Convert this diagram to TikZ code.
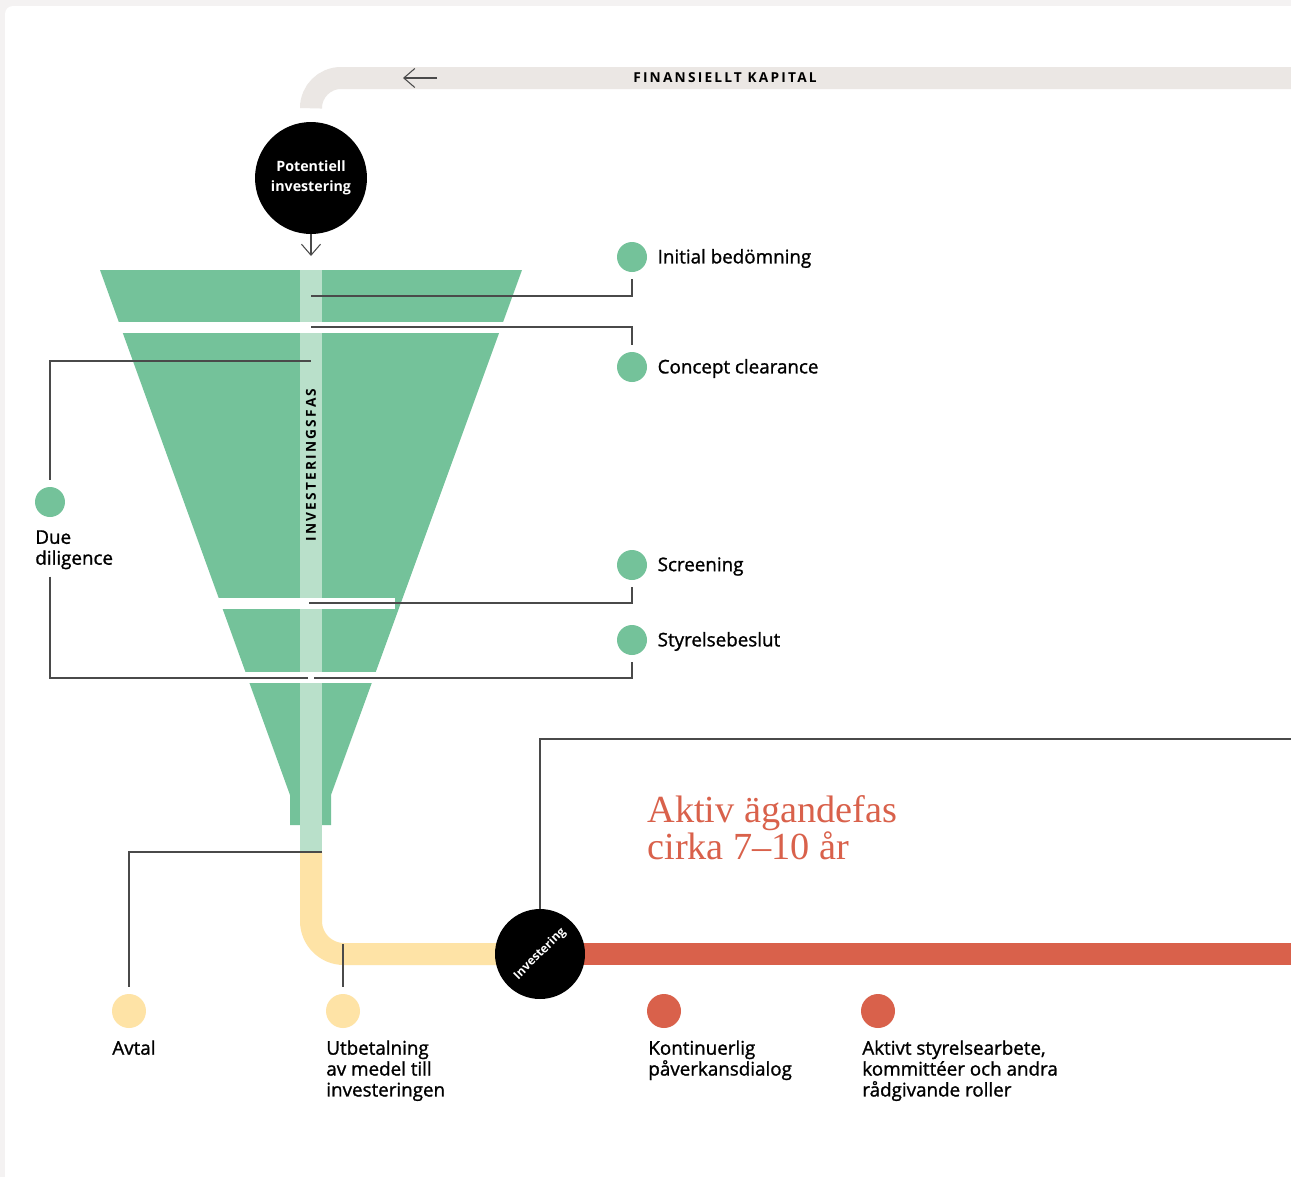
\documentclass[tikz,border=0pt]{standalone}
\usepackage{fontspec}
\setmainfont{Open Sans}
\newfontfamily\labelfont{Open Sans}[FakeBold=1.2]
\newfontfamily\titlefont{Liberation Serif}
\newfontfamily\capsfont{Open Sans}[LetterSpace=16]
\usetikzlibrary{positioning,arrows.meta}
\definecolor{bggrey}{HTML}{F4F2F2}
\definecolor{bandgrey}{HTML}{EBE7E4}
\definecolor{funnel}{HTML}{74C29A}
\definecolor{strip}{HTML}{B9E0CA}
\definecolor{owner}{HTML}{D9614B}
\definecolor{payout}{HTML}{FEE3A6}
\definecolor{leadgrey}{HTML}{4A4A4A}

\begin{document}
\begin{tikzpicture}[x=0.02cm, y=-0.02cm, node distance=0.2cm,
  dot/.style={circle, inner sep=0, minimum size=0.6cm, fill=funnel},
  big dot/.style={circle, inner sep=0, minimum size=0.68cm},
  black node/.style={circle, fill=black, inner sep=0, text=white},
  lbl/.style={inner sep=0, align=left, font=\labelfont\fontsize{10.7}{11.9}\selectfont},
  caps/.style={inner sep=0, font=\capsfont\bfseries\fontsize{7.8}{9}\selectfont},
  lead/.style={draw=leadgrey, line width=0.6pt, shorten <=0.14cm},
  band/.style={line width=0.44cm},
  pointer/.style={draw=leadgrey, line width=0.6pt, -{Straight Barb[length=0.22cm, width=0.38cm]}}]
\useasboundingbox (0,0) rectangle (1291,1177);
\fill[bggrey] (0,0) rectangle (1291,1177);
\fill[white, rounded corners=0.16cm] (5,6) rectangle (1320,1200);

\draw[band, bandgrey, rounded corners=0.6cm] (311,103) -- (311,78) -- (1291,78);
\coordinate (k1) at (437,78);
\coordinate (k2) at (403,78);
\draw[pointer] (k1) -- (k2);
\node[caps] (kapital) at (725,78) {FINANSIELLT KAPITAL};

\node[black node, minimum size=2.24cm, align=center, font=\bfseries\fontsize{8.1}{11.3}\selectfont] (pot) at (311,178) {Potentiell\\investering};
\coordinate (intake) at (311,256);
\draw[pointer] (pot) -- (intake);

\fill[funnel] (100,270) -- (522,270) -- (331,795) -- (331,825) -- (290,825) -- (290,795) -- cycle;
\fill[strip] (300,270) rectangle (322,852);
\fill[white] (90,322) rectangle (530,333);
\fill[white] (210,598) rectangle (395,609);
\fill[white] (200,672) rectangle (420,683);
\node[caps, rotate=90] (fas) at (311,465) {INVESTERINGSFAS};

\draw[band, payout, rounded corners=0.66cm] (311,852) -- (311,954) -- (540,954);
\draw[band, owner] (540,954) -- (1291,954);

\node[dot] (init) at (632,257) {};
\node[lbl, right=of init, yshift=-0.03cm] (initt) {Initial bedömning};
\node[dot] (concept) at (632,367) {};
\node[lbl, right=of concept, yshift=-0.03cm] (conceptt) {Concept clearance};
\node[dot] (screen) at (632,565) {};
\node[lbl, right=of screen, yshift=-0.03cm] (screent) {Screening};
\node[dot] (board) at (632,640) {};
\node[lbl, right=of board, yshift=-0.03cm] (boardt) {Styrelsebeslut};
\node[dot] (dd) at (50,502) {};
\node[lbl, anchor=north west] (ddt) at (35,530) {Due\\diligence};

\coordinate (f1) at (311,296);
\coordinate (f2) at (311,327);
\coordinate (f3) at (311,361);
\coordinate (f4) at (309,603);
\coordinate (f5) at (308,678);
\coordinate (f6) at (314,678);
\coordinate (f7) at (322,852);
\coordinate (f8) at (343,944);
\coordinate (f9) at (1291,739);

\draw[lead] (init) |- (f1);
\draw[lead] (concept) |- (f2);
\draw[lead] (dd) |- (f3);
\draw[lead] (screen) |- (f4);
\draw[lead] (ddt.south -| dd) |- (f5);
\draw[lead] (board) |- (f6);

\node[big dot, fill=payout] (avtal) at (129,1011) {};
\node[big dot, fill=payout] (utb) at (343,1011) {};
\node[big dot, fill=owner] (dialog) at (664,1011) {};
\node[big dot, fill=owner] (roles) at (878,1011) {};
\node[lbl, anchor=north west] (avtalt) at (112,1040) {Avtal};
\node[lbl, anchor=north west] (utbt) at (326,1040) {Utbetalning\\av medel till\\investeringen};
\node[lbl, anchor=north west] (dialogt) at (648,1040) {Kontinuerlig\\påverkansdialog};
\node[lbl, anchor=north west] (rolest) at (862,1040) {Aktivt styrelsearbete,\\kommittéer och andra\\rådgivande roller};

\draw[lead] (avtal) |- (f7);
\draw[lead] (utb) -- (f8);

\node[black node, minimum size=1.8cm] (inv) at (540,954) {};
\node[rotate=45, text=white, font=\bfseries\fontsize{6.8}{7}\selectfont] (invt) at (inv) {Investering};
\draw[lead, shorten <=0] (inv) |- (f9);
\node[anchor=north west, inner sep=0, align=left, text=owner, font=\titlefont\fontsize{21.8}{21.2}\selectfont] (aktiv) at (647,795) {Aktiv ägandefas\\cirka 7–10 år};
\end{tikzpicture}
\end{document}
